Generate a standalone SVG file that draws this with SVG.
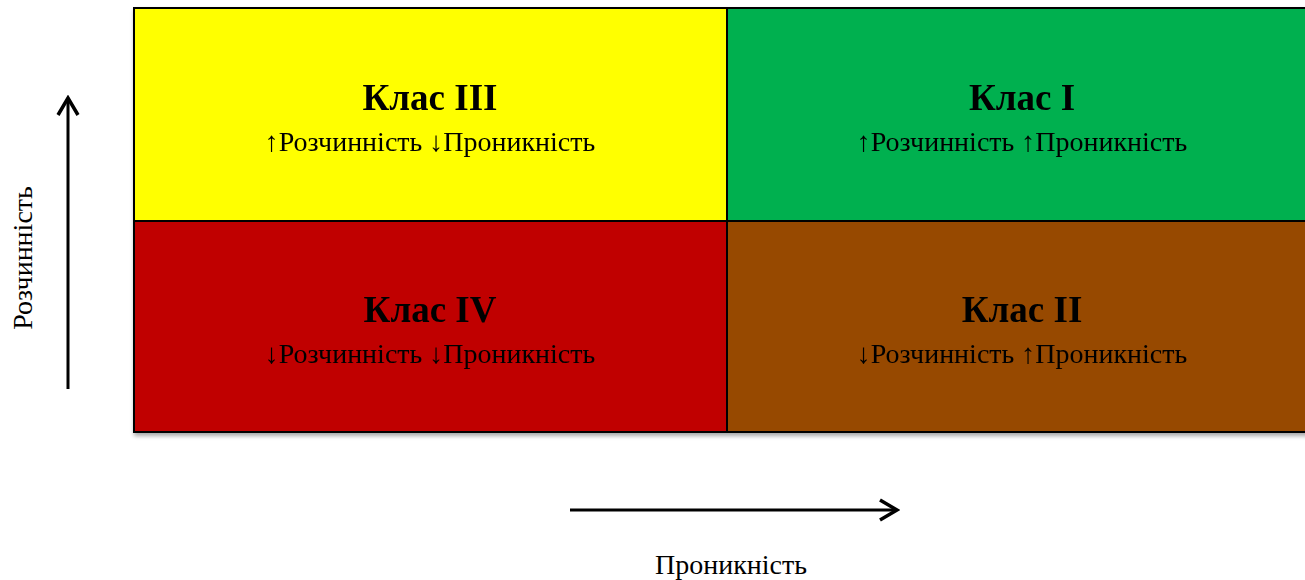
<svg xmlns="http://www.w3.org/2000/svg" width="1305" height="580" viewBox="0 0 1305 580">
<style>
.q{stroke:#000;stroke-width:2}
.t{font-family:"Liberation Serif","Times New Roman",serif;font-size:37px;font-weight:bold;text-anchor:middle;fill:#000}
.s{font-family:"Liberation Serif","Times New Roman",serif;font-size:28px;text-anchor:middle;fill:#000}
.ax{stroke:#000;stroke-width:3;fill:none}
</style>
<defs>
<marker id="ah" markerWidth="22" markerHeight="26" refX="19" refY="12" orient="auto" markerUnits="userSpaceOnUse">
<path d="M2,2 L19,12 L2,22" fill="none" stroke="#000" stroke-width="3.5"/>
</marker>
<filter id="sh" x="-5%" y="-5%" width="110%" height="115%">
<feGaussianBlur in="SourceAlpha" stdDeviation="2"/>
<feOffset dx="1" dy="3"/>
<feComponentTransfer><feFuncA type="linear" slope="0.35"/></feComponentTransfer>
<feMerge><feMergeNode/><feMergeNode in="SourceGraphic"/></feMerge>
</filter>
</defs>
<g id="grid" filter="url(#sh)">
<g id="class3"><rect class="q" x="134" y="8" width="593" height="213" fill="#FFFF00"/>
<text class="t" x="430" y="110">Клас III</text>
<text class="s" x="430" y="151">↑Розчинність ↓Проникність</text></g>
<g id="class1"><rect class="q" x="727" y="8" width="590" height="213" fill="#00B050"/>
<text class="t" x="1022" y="110">Клас I</text>
<text class="s" x="1022" y="151">↑Розчинність ↑Проникність</text></g>
<g id="class4"><rect class="q" x="134" y="221" width="593" height="211" fill="#C00000"/>
<text class="t" x="430" y="322">Клас IV</text>
<text class="s" x="430" y="363">↓Розчинність ↓Проникність</text></g>
<g id="class2"><rect class="q" x="727" y="221" width="590" height="211" fill="#974806"/>
<text class="t" x="1022" y="322">Клас II</text>
<text class="s" x="1022" y="363">↓Розчинність ↑Проникність</text></g>
</g>
<g id="connectors">
<line class="ax" x1="68" y1="389" x2="68" y2="98" marker-end="url(#ah)"/>
<line class="ax" x1="570" y1="510" x2="897" y2="510" marker-end="url(#ah)"/>
</g>
<g id="labels">
<text class="s" transform="translate(32,258) rotate(-90)">Розчинність</text>
<text class="s" x="731" y="574">Проникність</text>
</g>
</svg>
